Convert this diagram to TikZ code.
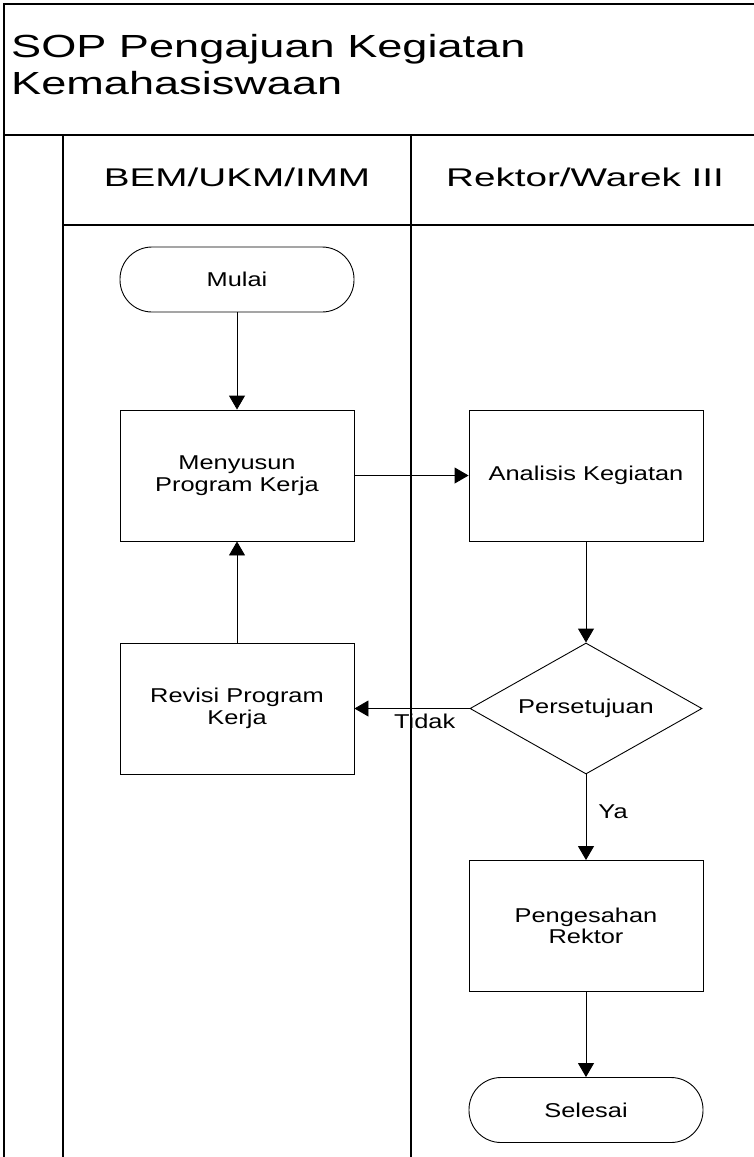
\documentclass[tikz,border=0pt]{standalone}
\usepackage{fontspec}
\setmainfont{Liberation Sans}
\newfontfamily\titlefont{Liberation Sans}[FakeStretch=1.41]
\newfontfamily\lanefont{Liberation Sans}[FakeStretch=1.51]
\newfontfamily\boxfont{Liberation Sans}[FakeStretch=1.27]
\usetikzlibrary{shapes.geometric,arrows.meta}

\begin{document}
\begin{tikzpicture}[x=1pt,y=-1pt,
  frame/.style={line width=1.4pt},
  proc/.style={draw,line width=0.9pt,minimum width=234pt,minimum height=131pt,inner sep=0pt,
    align=center,font=\boxfont\fontsize{20}{21.6}\selectfont},
  term/.style={proc,minimum height=65pt,rounded corners=32pt},
  decide/.style={proc,diamond,aspect=1.77,minimum width=232pt,minimum height=131pt},
  flow/.style={line width=0.9pt,-{Triangle[length=14pt,width=16pt]}},
  lbl/.style={inner sep=0pt,font=\boxfont\fontsize{20}{21.6}\selectfont},
  judul/.style={anchor=base west,inner sep=0pt,font=\titlefont\fontsize{32}{36}\selectfont},
  lane/.style={anchor=base,inner sep=0pt,font=\lanefont\fontsize{25.6}{28}\selectfont}]
  \useasboundingbox (0,0) rectangle (754,1157);

  % pool and lanes
  \draw[frame] (754,4) -- (4,4) -- (4,1157);
  \draw[line width=2.2pt] (4,135) -- (754,135);
  \foreach \x in {63,411}
    \draw[frame] (\x,135) -- (\x,1157);
  \draw[frame] (63,225) -- (754,225);

  \node[judul] (judul1) at (11,57.7) {SOP Pengajuan Kegiatan};
  \node[judul] (judul2) at (11,94) {Kemahasiswaan};
  \node[lane] (bem) at (237,186.7) {BEM/UKM/IMM};
  \node[lane] (rektor) at (585,186.7) {Rektor/Warek III};

  % steps
  \node[term] (mulai) at (237,279.5) {Mulai};
  \node[proc] (susun) at (237,475.5) {Menyusun\\Program Kerja};
  \node[proc] (analisis) at (586,475.5) {Analisis Kegiatan};
  \node[decide] (setuju) at (586,708.5) {Persetujuan};
  \node[proc] (revisi) at (237,708.5) {Revisi Program\\Kerja};
  \node[proc] (sah) at (586,926) {Pengesahan\\Rektor};
  \node[term] (selesai) at (586,1110) {Selesai};

  \draw[flow] (mulai) -- (susun);
  \draw[flow] (susun) -- (analisis);
  \draw[flow] (analisis) -- (setuju);
  \draw[flow] (setuju) -- node[lbl,pos=0.39,below=5pt] (tidak) {Tidak} (revisi);
  \draw[flow] (revisi) -- (susun);
  \draw[flow] (setuju) -- node[lbl,pos=0.44,right=12pt] (ya) {Ya} (sah);
  \draw[flow] (sah) -- (selesai);
\end{tikzpicture}
\end{document}
